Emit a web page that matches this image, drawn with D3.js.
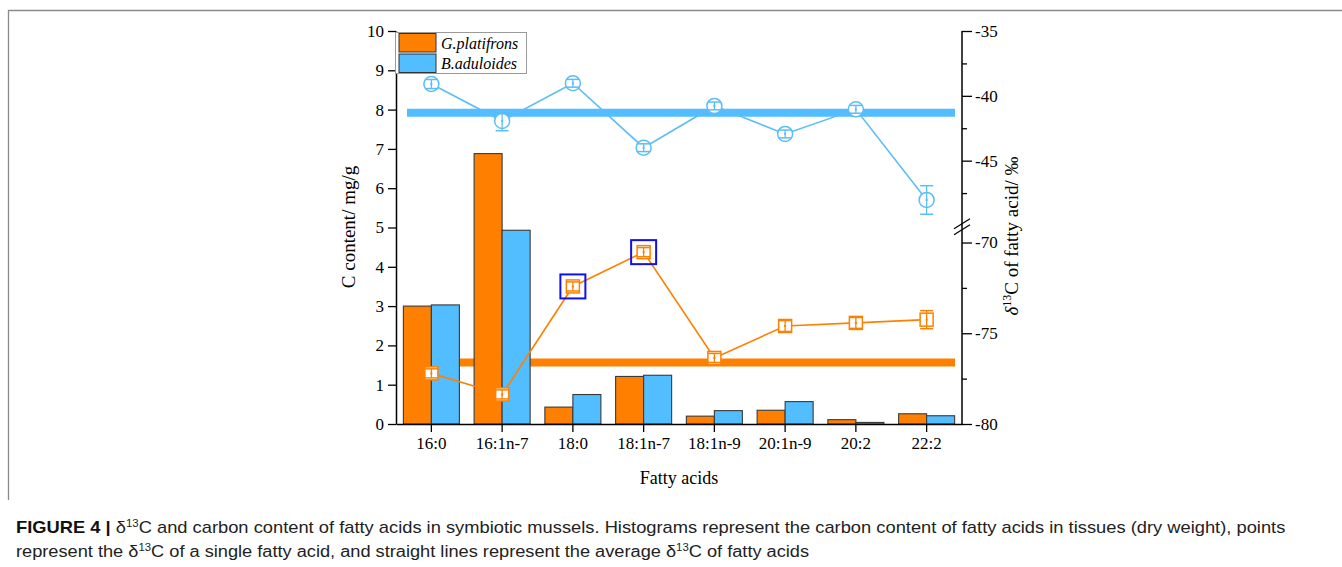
<!DOCTYPE html>
<html>
<head>
<meta charset="utf-8">
<script src="https://cdn.jsdelivr.net/npm/d3@7"></script>
<style>
  body { margin: 0; background: #fff; }
  svg { display: block; }
</style>
</head>
<body>
<svg id="chart" width="1342" height="567"></svg>
<script>
// ---- data ----
const categories = ["16:0", "16:1n-7", "18:0", "18:1n-7", "18:1n-9", "20:1n-9", "20:2", "22:2"];
const seriesNames = ["G.platifrons", "B.aduloides"];
// carbon content, mg/g
const contentG = [3.00, 6.88, 0.43, 1.21, 0.20, 0.35, 0.11, 0.26];
const contentB = [3.03, 4.93, 0.75, 1.24, 0.34, 0.57, 0.04, 0.21];
// delta13C of single fatty acids, permil
const deltaG = [-77.21, -78.37, -72.42, -70.53, -76.36, -74.60, -74.43, -74.25];
const deltaGErr = [0.25, 0.25, 0.25, 0.25, 0.25, 0.3, 0.3, 0.5];
const deltaB = [-39.09, -41.94, -39.03, -44.00, -40.78, -42.94, -41.04, -48.03];
const deltaBErr = [0.35, 0.75, 0.3, 0.3, 0.3, 0.3, 0.3, 1.1];
// average delta13C of fatty acids
const meanDeltaG = [-76.61];
const meanDeltaB = [-41.30];
const highlighted = ["18:0", "18:1n-7"];
const leftTicks = [0, 1, 2, 3, 4, 5, 6, 7, 8, 9, 10];
const rightUpperTicks = [-35, -40, -45];
const rightUpperMinor = [-37.5, -42.5, -47.5];
const rightLowerTicks = [-70, -75, -80];
const rightLowerMinor = [-72.5, -77.5];

const ORANGE = "#ff8000";
const BLUE = "#52bdff";
const BLUE_LINE = "#5cbdf7";
const SERIF = "'Liberation Serif', 'Times New Roman', serif";
const SANS = "'Liberation Sans', Arial, sans-serif";

const svg = d3.select("#chart");

// ---- figure frame ----
svg.append("path")
  .attr("d", "M8.5,500 V10.5 H1342")
  .attr("fill", "none").attr("stroke", "#8a8a8a").attr("stroke-width", 1.3);

// ---- scales ----
const x = d3.scaleBand().domain(categories).range([396, 962]).padding(0);
const xs = d3.scaleBand().domain(seriesNames).range([0, x.bandwidth()]).paddingInner(0).paddingOuter(0.263);
const yL = d3.scaleLinear().domain([0, 10]).range([424, 31]);
const yRU = d3.scaleLinear().domain([-50, -35]).range([225.5, 31]);   // upper segment of broken axis
const yRL = d3.scaleLinear().domain([-80, -69.2]).range([424, 228]);  // lower segment of broken axis
const cx = c => x(c) + x.bandwidth() / 2;
const plain = d => String(d);

const plot = svg.append("g");

// ---- average lines (behind bars) ----
const xMeanStart = x.range()[0] + 11, xMeanEnd = x.range()[1] - 7;
plot.append("line")
  .attr("x1", xMeanStart).attr("x2", xMeanEnd)
  .attr("y1", yRU(meanDeltaB[0])).attr("y2", yRU(meanDeltaB[0]))
  .attr("stroke", BLUE).attr("stroke-width", 8);
plot.append("line")
  .attr("x1", xMeanStart).attr("x2", xMeanEnd)
  .attr("y1", yRL(meanDeltaG[0])).attr("y2", yRL(meanDeltaG[0]))
  .attr("stroke", ORANGE).attr("stroke-width", 8);

// ---- bars ----
const barRows = categories.map((c, i) => ({ c, values: [
  { s: seriesNames[0], v: contentG[i], color: ORANGE },
  { s: seriesNames[1], v: contentB[i], color: BLUE }
]}));
plot.selectAll("g.grp").data(barRows).join("g")
  .attr("class", "grp")
  .attr("transform", d => `translate(${x(d.c)},0)`)
  .selectAll("rect").data(d => d.values).join("rect")
  .attr("x", d => xs(d.s))
  .attr("width", xs.bandwidth())
  .attr("y", d => yL(d.v))
  .attr("height", d => yL(0) - yL(d.v))
  .attr("fill", d => d.color)
  .attr("stroke", "#3a3a3a").attr("stroke-width", 1.1);

// ---- axes ----
const axisG = svg.append("g");

// bottom
axisG.append("g").attr("transform", `translate(0,${yL(0)})`)
  .call(d3.axisBottom(x).tickSize(8).tickSizeOuter(0).tickPadding(5));
// left
axisG.append("g").attr("transform", `translate(${x.range()[0]},0)`)
  .call(d3.axisLeft(yL).tickValues(leftTicks).tickFormat(plain).tickSize(8).tickSizeOuter(0).tickPadding(4));
// right, broken
const right = axisG.append("g").attr("transform", `translate(${x.range()[1]},0)`);
right.append("g").call(d3.axisRight(yRU).tickValues(rightUpperTicks).tickFormat(plain).tickSize(10).tickSizeOuter(0).tickPadding(3));
right.append("g").call(d3.axisRight(yRU).tickValues(rightUpperMinor).tickSize(5).tickFormat(""));
right.append("g").call(d3.axisRight(yRL).tickValues(rightLowerTicks).tickFormat(plain).tickSize(10).tickSizeOuter(0).tickPadding(3));
right.append("g").call(d3.axisRight(yRL).tickValues(rightLowerMinor).tickSize(5).tickFormat(""));
right.selectAll(".domain").remove();
right.append("line").attr("x1", 0).attr("x2", 0).attr("y1", yRU(-35)).attr("y2", yRL(-80))
  .attr("stroke", "#000").attr("stroke-width", 1.5);
// break marks
const yBreak = (yRU.range()[0] + yRL.range()[1]) / 2;
[-3, 3].forEach(dy => {
  right.append("line")
    .attr("x1", -8).attr("x2", 8)
    .attr("y1", yBreak + dy + 5).attr("y2", yBreak + dy - 5)
    .attr("stroke", "#000").attr("stroke-width", 1.2);
});

// axis styling (d3 puts its own font on each axis group)
axisG.selectAll("g").attr("font-family", SERIF).attr("font-size", 17);
axisG.selectAll(".domain").attr("stroke", "#000").attr("stroke-width", 1.5);
axisG.selectAll(".tick line").attr("stroke", "#000").attr("stroke-width", 1.3);
axisG.selectAll(".tick text").attr("fill", "#000");

// axis titles
svg.append("text")
  .attr("x", (x.range()[0] + x.range()[1]) / 2).attr("y", 484)
  .attr("text-anchor", "middle").attr("font-family", SERIF).attr("font-size", 18)
  .text("Fatty acids");
svg.append("text")
  .attr("transform", "translate(355,227) rotate(-90)")
  .attr("text-anchor", "middle").attr("font-family", SERIF).attr("font-size", 19)
  .text("C content/ mg/g");
const rt = svg.append("text")
  .attr("transform", "translate(1018,236) rotate(-90)")
  .attr("text-anchor", "middle").attr("font-family", SERIF).attr("font-size", 19);
rt.append("tspan").attr("font-style", "italic").text("δ");
rt.append("tspan").attr("font-size", 12).attr("dy", -7).text("13");
rt.append("tspan").attr("dy", 7).text("C of fatty acid/ ‰");

// ---- delta13C points ----
const lineB = d3.line().x(d => cx(d.c)).y(d => yRU(d.v));
const lineG = d3.line().x(d => cx(d.c)).y(d => yRL(d.v));
const ptsB = categories.map((c, i) => ({ c, v: deltaB[i], e: deltaBErr[i] }));
const ptsG = categories.map((c, i) => ({ c, v: deltaG[i], e: deltaGErr[i] }));

plot.append("path").datum(ptsB).attr("d", lineB)
  .attr("fill", "none").attr("stroke", BLUE_LINE).attr("stroke-width", 1.6);
plot.append("path").datum(ptsG).attr("d", lineG)
  .attr("fill", "none").attr("stroke", ORANGE).attr("stroke-width", 1.6);

function drawPoints(pts, yScale, color, shape) {
  const g = plot.append("g").selectAll("g").data(pts).join("g")
    .attr("transform", d => `translate(${cx(d.c)},0)`);
  if (shape === "circle") {
    g.append("circle").attr("cy", d => yScale(d.v)).attr("r", 7.5)
      .attr("fill", "#fff").attr("stroke", color).attr("stroke-width", 1.5);
  } else {
    g.append("rect").attr("x", -6.5).attr("y", d => yScale(d.v) - 6.5)
      .attr("width", 13).attr("height", 13)
      .attr("fill", "#fff").attr("stroke", color).attr("stroke-width", 1.5);
  }
  const cap = 6.5;
  g.append("line").attr("x1", 0).attr("x2", 0)
    .attr("y1", d => yScale(d.v + d.e)).attr("y2", d => yScale(d.v - d.e))
    .attr("stroke", color).attr("stroke-width", 1.3);
  [1, -1].forEach(s => {
    g.append("line").attr("x1", -cap).attr("x2", cap)
      .attr("y1", d => yScale(d.v + s * d.e)).attr("y2", d => yScale(d.v + s * d.e))
      .attr("stroke", color).attr("stroke-width", 1.5);
  });
  g.append("rect").attr("x", -1).attr("y", d => yScale(d.v) - 1)
    .attr("width", 2).attr("height", 2).attr("fill", color);
}
drawPoints(ptsB, yRU, BLUE_LINE, "circle");
drawPoints(ptsG, yRL, ORANGE, "square");

// highlight boxes
plot.selectAll("rect.hl").data(ptsG.filter(d => highlighted.includes(d.c))).join("rect")
  .attr("class", "hl")
  .attr("x", d => cx(d.c) - 12.5).attr("y", d => yRL(d.v) - 12)
  .attr("width", 25).attr("height", 24)
  .attr("fill", "none").attr("stroke", "#1010ee").attr("stroke-width", 2);

// ---- legend ----
const lg = svg.append("g").attr("transform", "translate(395.5,32.5)");
lg.append("rect").attr("width", 131).attr("height", 41)
  .attr("fill", "#fff").attr("stroke", "#9a9a9a").attr("stroke-width", 1);
[ORANGE, BLUE].forEach((col, i) => {
  lg.append("rect").attr("x", 3.5).attr("y", 1 + i * 20.5).attr("width", 37).attr("height", 18.5)
    .attr("fill", col).attr("stroke", "#333").attr("stroke-width", 1);
  lg.append("text").attr("x", 45.5).attr("y", 16 + i * 20.5)
    .attr("font-family", SERIF).attr("font-style", "italic").attr("font-size", 16)
    .text(seriesNames[i]);
});

// ---- caption ----
const caption1 = [
  { t: "FIGURE 4 | ", bold: true },
  { t: "δ" },
  { t: "13", sup: true },
  { t: "C and carbon content of fatty acids in symbiotic mussels. Histograms represent the carbon content of fatty acids in tissues (dry weight), points" }
];
const caption2 = [
  { t: "represent the δ" },
  { t: "13", sup: true },
  { t: "C of a single fatty acid, and straight lines represent the average δ" },
  { t: "13", sup: true },
  { t: "C of fatty acids" }
];
function captionLine(parts, y, width) {
  const t = svg.append("text").attr("x", 0).attr("y", y)
    .attr("font-family", SANS).attr("font-size", 16).attr("fill", "#222");
  parts.forEach((p, i) => {
    const s = t.append("tspan").text(p.t);
    if (p.bold) s.attr("font-weight", "bold").attr("fill", "#111");
    if (p.sup) s.attr("font-size", 10).attr("dy", -6);
    else if (i > 0 && parts[i - 1].sup) s.attr("dy", 6);
  });
  const w = t.node().getComputedTextLength();
  t.attr("transform", `translate(16,0) scale(${width / w},1)`);
}
captionLine(caption1, 533, 1270);
captionLine(caption2, 557, 794);
</script>
</body>
</html>
